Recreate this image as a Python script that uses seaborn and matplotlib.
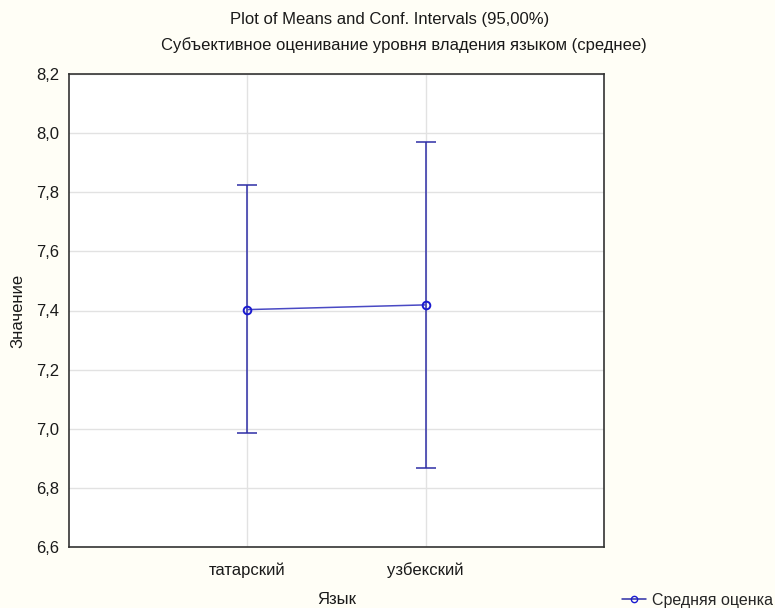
import matplotlib
matplotlib.use("Agg")
import matplotlib.pyplot as plt
from matplotlib.ticker import FuncFormatter, FixedLocator
from matplotlib.lines import Line2D
import seaborn as sns
import pandas as pd

# Group means and 95% confidence limits
languages = ["татарский", "узбекский"]
means = [7.403, 7.419]
ci_lower = [6.987, 6.866]
ci_upper = [7.824, 7.970]

df = pd.DataFrame({"Язык": languages, "Значение": means,
                   "lo": ci_lower, "hi": ci_upper})
df["pos"] = range(len(languages))

sns.set_theme(style="white")
plt.rcParams["font.family"] = ["Liberation Sans", "DejaVu Sans"]

BG = "#fffef6"
LINE = "#4a4ac4"
BAR = "#2e2ea6"
TXT = "#1a1a1a"
FS = 12

fig = plt.figure(figsize=(7.75, 6.08), dpi=100, facecolor=BG)
ax = fig.add_axes([69 / 775, 1 - 547 / 608, (604 - 69) / 775, (547 - 74) / 608])
ax.set_facecolor("white")

# Confidence interval whiskers
ax.errorbar(df["pos"], df["Значение"],
            yerr=[df["Значение"] - df["lo"], df["hi"] - df["Значение"]],
            fmt="none", ecolor=BAR, elinewidth=1.1, capsize=7, capthick=1.1, zorder=3)

# Means joined by a line
sns.lineplot(data=df, x="pos", y="Значение", ax=ax, color=LINE, linewidth=1.1,
             marker="o", markersize=5.5, markerfacecolor="none",
             markeredgecolor="#1a1ad0", markeredgewidth=1.4, zorder=4)

ax.set_xlim(-1, 2)
ax.set_ylim(6.6, 8.2)
ax.xaxis.set_major_locator(FixedLocator(df["pos"].tolist()))
ax.set_xticklabels(languages)
ax.set_yticks([6.6, 6.8, 7.0, 7.2, 7.4, 7.6, 7.8, 8.0, 8.2])
ax.yaxis.set_major_formatter(FuncFormatter(lambda v, _: f"{v:.1f}".replace(".", ",")))

ax.grid(True, color="#e2e2e2", linewidth=1.0)
ax.set_axisbelow(True)
for s in ax.spines.values():
    s.set_color("#333333")
    s.set_linewidth(1.2)
ax.tick_params(axis="y", which="major", direction="in", length=4, color="#444444",
               labelsize=FS, labelcolor=TXT, pad=7)
ax.tick_params(axis="x", which="major", direction="in", length=4, color="#444444",
               labelsize=FS, labelcolor=TXT, pad=11)

ax.set_xlabel("Язык", fontsize=FS, color=TXT, labelpad=10)
ax.set_ylabel("Значение", fontsize=FS, color=TXT, labelpad=8)

fig.text(0.503, 0.968, "Plot of Means and Conf. Intervals (95,00%)",
         ha="center", va="center", fontsize=FS, color=TXT)
fig.text(0.521, 0.926, "Субъективное оценивание уровня владения языком (среднее)",
         ha="center", va="center", fontsize=FS, color=TXT)

handle = Line2D([], [], color=BAR, marker="o", markersize=4.5, markerfacecolor="none",
                markeredgecolor="#1a1ad0", linewidth=1.1)
fig.legend([handle], ["Средняя оценка"], loc="center right",
           bbox_to_anchor=(0.997, 0.013), frameon=False, fontsize=11.5,
           handlelength=1.5, handletextpad=0.35, borderaxespad=0, borderpad=0)

fig.savefig("out.png", dpi=100, facecolor=BG)
